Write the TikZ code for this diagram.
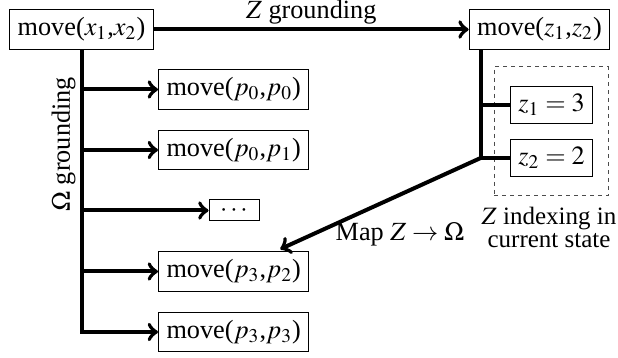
\documentclass[tikz,border=0pt]{standalone}
\usepackage{mathptmx}
\usepackage{fontspec}
\setmainfont{Liberation Serif}
\begin{document}
\begin{tikzpicture}[x=0.4pt,y=-0.4pt,
  font=\fontsize{10.5}{12.6}\selectfont,
  box/.style={draw, inner sep=3.2pt},
  wire/.style={ultra thick},
  arr/.style={ultra thick,->},
  lbl/.style={inner sep=0pt}]
\useasboundingbox (0,0) rectangle (618,358);
% left column
\node[box] (X) at (81.5,29.5) {move($x_1$,$x_2$)};
\node[box, anchor=west] (p00) at (158,89.5) {move($p_0$,$p_0$)};
\node[box, anchor=west] (p01) at (158,150) {move($p_0$,$p_1$)};
\node[draw, minimum width=20pt, minimum height=8.4pt, inner sep=0pt, text height=5pt, text depth=0pt] (dots) at (234,210.5) {$\cdots$};
\node[box, anchor=west] (p32) at (158,271.5) {move($p_3$,$p_2$)};
\node[box, anchor=west] (p33) at (158,332) {move($p_3$,$p_3$)};
% right column
\node[box] (Zb) at (539.5,29.5) {move($z_1$,$z_2$)};
\node[draw, black!70, dash pattern=on 1.6pt off 1.6pt, minimum width=45.6pt, minimum height=51.6pt, inner sep=0pt] (frame) at (551,131.5) {};
\node[box] (z1) at (551.5,105) {$z_1=3$};
\node[box] (z2) at (551.5,158) {$z_2=2$};
% coordinates
\coordinate (rt) at ([xshift=4.8pt]Zb.south west);
\coordinate (mt) at ([xshift=18.6pt,yshift=0.8pt]p32.north);
% connectors
\draw[arr] (X.east) -- node[above=1.2pt, lbl] (zg) {$Z$ grounding} (Zb.west);
\draw[arr] (X.south) |- (p33.west);
\foreach \n in {p00,p01,dots,p32} \draw[arr] (X.south |- \n.west) -- (\n.west);
\draw[wire] (rt) -- (rt |- z2.west) -- (z2.west);
\draw[wire] (rt |- z1.west) -- (z1.west);
\draw[arr] (rt |- z2.west) -- (mt);
% labels
\node[lbl, rotate=90] (og) at (63.5,144.5) {$\Omega$ grounding};
\node[lbl] (ml) at (400,234) {Map $Z\rightarrow\Omega$};
\node[lbl, anchor=north, align=center, font=\fontsize{10}{12}\selectfont] (zl) at (549,207) {$Z$ indexing in\\[-3pt]current state};
\end{tikzpicture}
\end{document}
